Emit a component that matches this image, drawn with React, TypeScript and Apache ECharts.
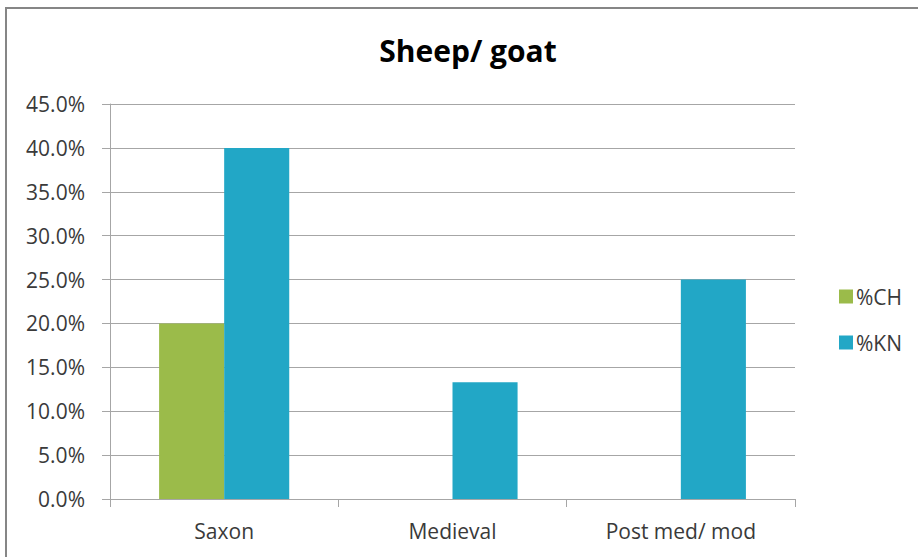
import React, { useEffect, useRef } from "react";
import * as echarts from "echarts";

const categories = ["Saxon", "Medieval", "Post med/ mod"];
const seriesNames = ["%CH", "%KN"];
const chValues = [20.0, 0, 0];
const knValues = [40.0, 13.3, 25.0];
const yTicks = { min: 0, max: 45, interval: 5 };

const FONT = "'Open Sans', 'DejaVu Sans', sans-serif";
const TEXT = "#3A3A3A";
const GRID = "#A6A6A6";
const LABEL_SIZE = 21;

export default function App() {
  const ref = useRef<HTMLDivElement>(null);

  useEffect(() => {
    if (!ref.current) return;
    const chart = echarts.init(ref.current, undefined, { renderer: "svg" });
    chart.setOption({
      animation: false,
      backgroundColor: "#FFFFFF",
      textStyle: { fontFamily: FONT },
      title: {
        text: "Sheep/ goat",
        left: 463,
        top: 30,
        textAlign: "center",
        textStyle: { fontFamily: FONT, fontSize: 30, fontWeight: "bold", color: "#000000" },
      },
      graphic: [
        {
          type: "rect",
          shape: { x: 6, y: 8, width: 1000, height: 1000 },
          style: { fill: "none", stroke: "#868686", lineWidth: 2 },
          silent: true,
        },
      ],
      legend: {
        orient: "vertical",
        left: 834,
        top: 281,
        itemWidth: 14,
        itemHeight: 14,
        itemGap: 25,
        icon: "rect",
        textStyle: { fontFamily: FONT, fontSize: LABEL_SIZE, color: TEXT, padding: [0, 0, 0, -2] },
        data: seriesNames,
      },
      grid: { left: 110, right: 123, top: 104, bottom: 58, containLabel: false },
      xAxis: {
        type: "category",
        data: categories,
        axisLine: { show: true, lineStyle: { color: GRID, width: 1 } },
        axisTick: { show: true, length: 8, lineStyle: { color: GRID } },
        axisLabel: { fontFamily: FONT, fontSize: LABEL_SIZE, color: TEXT, margin: 21 },
      },
      yAxis: {
        type: "value",
        min: yTicks.min,
        max: yTicks.max,
        interval: yTicks.interval,
        axisLine: { show: true, lineStyle: { color: GRID, width: 1 } },
        axisTick: { show: true, length: 8, lineStyle: { color: GRID } },
        splitLine: { show: true, lineStyle: { color: GRID, width: 1 } },
        axisLabel: {
          fontFamily: FONT,
          fontSize: LABEL_SIZE,
          color: TEXT,
          margin: 25,
          formatter: (v: number) => v.toFixed(1) + "%",
        },
      },
      series: [
        {
          name: seriesNames[0],
          type: "bar",
          data: chValues,
          barGap: "0%",
          barCategoryGap: "43%",
          itemStyle: { color: "#9BBB4A" },
        },
        {
          name: seriesNames[1],
          type: "bar",
          data: knValues,
          barGap: "0%",
          barCategoryGap: "43%",
          itemStyle: { color: "#22A7C6" },
        },
      ],
    });
    return () => chart.dispose();
  }, []);

  return (
    <div
      ref={ref}
      style={{ position: "fixed", left: 0, top: 0, width: 918, height: 557 }}
    />
  );
}
